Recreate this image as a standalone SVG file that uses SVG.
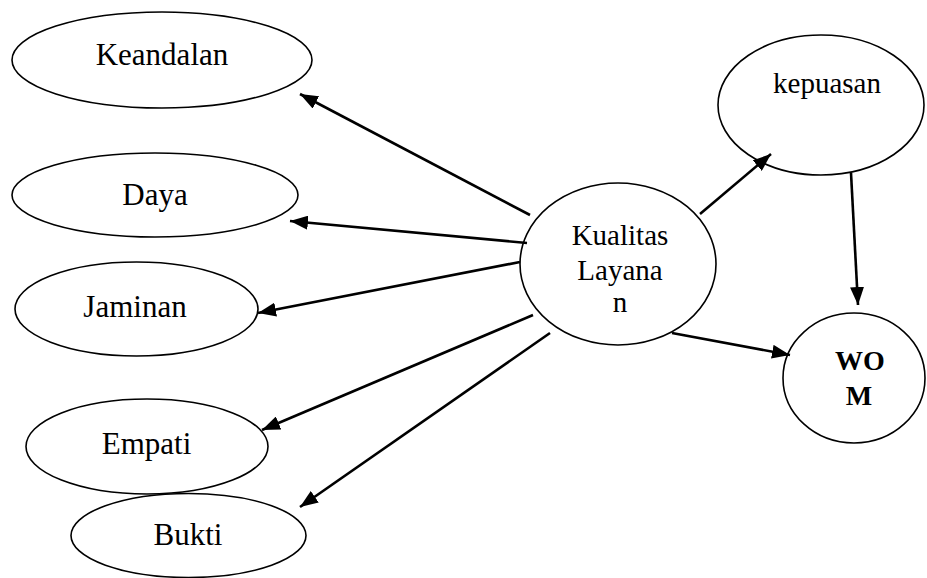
<svg xmlns="http://www.w3.org/2000/svg" width="927" height="578" viewBox="0 0 927 578">
<defs>
<style>
.n ellipse{fill:#fff;stroke:#000;stroke-width:1.6}
.n text{font-family:"Liberation Serif","Times New Roman",serif;fill:#000;text-anchor:middle}
.l{font-size:31px}
.r{font-size:29px}
.b{font-size:28px;font-weight:bold}
#edges line{stroke:#000;stroke-width:2.6}
</style>
<marker id="ah" markerUnits="userSpaceOnUse" markerWidth="20" markerHeight="14" refX="18" refY="7" orient="auto">
<path d="M0,0 L18,7 L0,14 Z" fill="#000"/>
</marker>
</defs>
<rect width="927" height="578" fill="#fff"/>
<g id="keandalan" class="n"><ellipse cx="162" cy="60" rx="150" ry="48"/><text class="l" x="162" y="65">Keandalan</text></g>
<g id="daya" class="n"><ellipse cx="155" cy="195" rx="143" ry="42"/><text class="l" x="155" y="205">Daya</text></g>
<g id="jaminan" class="n"><ellipse cx="136.5" cy="309" rx="121.5" ry="47"/><text class="l" x="135" y="317">Jaminan</text></g>
<g id="empati" class="n"><ellipse cx="147" cy="446.5" rx="121" ry="47.5"/><text class="l" x="146.5" y="454">Empati</text></g>
<g id="bukti" class="n"><ellipse cx="188.5" cy="535.5" rx="117.5" ry="42"/><text class="l" x="188" y="545">Bukti</text></g>
<g id="kualitas" class="n"><ellipse cx="618" cy="264" rx="98" ry="81"/><text class="r" x="620" y="245">Kualitas</text><text class="r" x="620" y="280">Layana</text><text class="r" x="620" y="312">n</text></g>
<g id="kepuasan" class="n"><ellipse cx="821" cy="105" rx="103" ry="70"/><text class="r" x="827" y="93">kepuasan</text></g>
<g id="wom" class="n"><ellipse cx="854" cy="378" rx="71" ry="65"/><text class="b" x="860" y="370">WO</text><text class="b" x="859" y="405">M</text></g>
<g id="edges">
<line x1="530" y1="215" x2="300" y2="94" marker-end="url(#ah)"/>
<line x1="527" y1="243" x2="290" y2="221" marker-end="url(#ah)"/>
<line x1="520" y1="262" x2="258" y2="313" marker-end="url(#ah)"/>
<line x1="533" y1="315" x2="262" y2="430" marker-end="url(#ah)"/>
<line x1="550" y1="333" x2="300" y2="507" marker-end="url(#ah)"/>
<line x1="700" y1="214" x2="771" y2="154" marker-end="url(#ah)"/>
<line x1="851" y1="173" x2="858" y2="305" marker-end="url(#ah)"/>
<line x1="672" y1="333" x2="790" y2="355" marker-end="url(#ah)"/>
</g>
</svg>
